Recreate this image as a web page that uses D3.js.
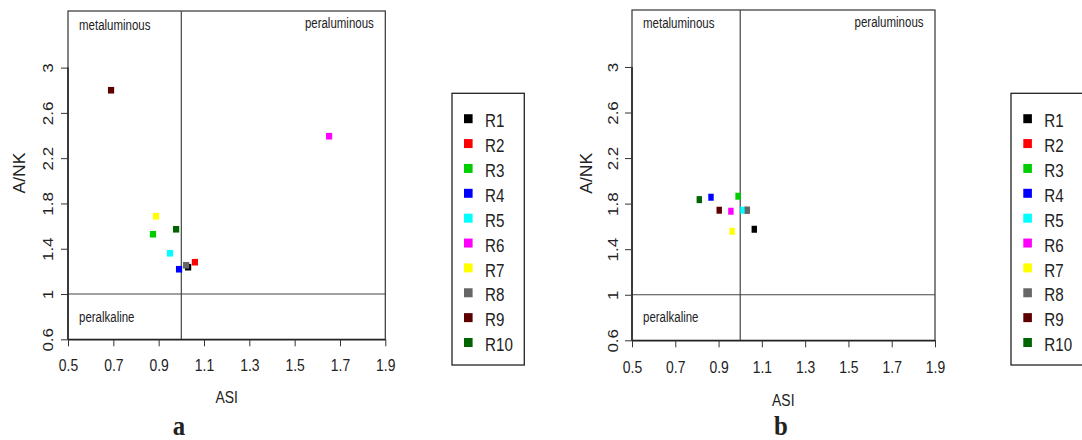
<!DOCTYPE html>
<html><head><meta charset="utf-8">
<script src="https://cdn.jsdelivr.net/npm/d3@7"></script>
<style>
html,body{margin:0;padding:0;background:#fff;}
svg text{fill:#222;font-family:"Liberation Sans",Arial,sans-serif;}
</style></head><body>
<svg id="chart" width="1082" height="440"></svg>
<script>
// ---- data ----
const series = ["R1","R2","R3","R4","R5","R6","R7","R8","R9","R10"];
const colors = ["#000000","#ff0000","#00cd00","#0000ff","#00ffff","#ff00ff","#ffff00","#666666","#5c0000","#006400"];
const asiA = [1.03, 1.06, 0.875, 0.99, 0.95, 1.652, 0.888, 1.021, 0.69, 0.977];
const anknA = [1.237, 1.281, 1.528, 1.219, 1.36, 2.394, 1.687, 1.254, 2.80, 1.572];
const asiB = [1.065, 1.03, 0.99, 0.865, 1.013, 0.957, 0.963, 1.033, 0.903, 0.811];
const anknB = [1.575, 1.742, 1.865, 1.856, 1.742, 1.733, 1.557, 1.742, 1.742, 1.835];
const xTicks = [0.5, 0.7, 0.9, 1.1, 1.3, 1.5, 1.7, 1.9];
const yTicks = [0.6, 1, 1.4, 1.8, 2.2, 2.6, 3];
const xDomain = [0.5, 1.9];
const yDomain = [0.6, 3.5];
const xDivider = 1;
const yDivider = 1;
const regionLabels = ["metaluminous", "peraluminous", "peralkaline"];
const panelTitles = ["a", "b"];

const SQ = 0.82; // horizontal squeeze of the reference lettering
const svg = d3.select("#chart");

function htext(g, x, y, txt, size, anchor, sq) {
  return g.append("text").attr("font-size", size).attr("text-anchor", anchor || "start")
    .attr("transform", `translate(${x},${y}) scale(${sq || SQ},1)`).text(txt);
}

const panels = [
  {title: panelTitles[0], xs: asiA, ys: anknA, left: 68, right: 385.3, top: 11, bottom: 339.3,
   mw: 6.2, mh: 6.6, ytickX: 52.7, xtickBase: 370.7, asiBase: 403.3, asiX: 226.7, ankX: 25, ankY: 173,
   metaBase: 30, periBase: 28.3, alkBase: 322, titleX: 179, titleBase: 435,
   leg: {x0: 452, x1: 524.3, y0: 93.3, y1: 365, sqX: 468.3, txX: 485}},
  {title: panelTitles[1], xs: asiB, ys: anknB, left: 632, right: 935, top: 10, bottom: 340.3,
   mw: 5.4, mh: 7, ytickX: 618.2, xtickBase: 373.3, asiBase: 406, asiX: 783.3, ankX: 591.7, ankY: 173.3,
   metaBase: 28.3, periBase: 26.7, alkBase: 322, titleX: 781, titleBase: 435,
   leg: {x0: 1011, x1: 1095, y0: 93.3, y1: 365, sqX: 1027.6, txX: 1044.3}}
];

panels.forEach(p => {
  const g = svg.append("g");
  const x = d3.scaleLinear().domain(xDomain).range([p.left, p.right]);
  const y = d3.scaleLinear().domain(yDomain).range([p.bottom, p.top]);

  // box
  g.append("rect").attr("x", p.left).attr("y", p.top)
    .attr("width", p.right - p.left).attr("height", p.bottom - p.top)
    .attr("fill", "none").attr("stroke", "#333").attr("stroke-width", 1.2);

  // divider lines
  g.append("line").attr("x1", x(xDivider)).attr("x2", x(xDivider))
    .attr("y1", p.top).attr("y2", p.bottom).attr("stroke", "#444").attr("stroke-width", 1.2);
  g.append("line").attr("x1", p.left).attr("x2", p.right)
    .attr("y1", y(yDivider)).attr("y2", y(yDivider)).attr("stroke", "#444").attr("stroke-width", 1.2);

  // axes
  const xa = g.append("g").attr("transform", `translate(0,${p.bottom})`)
    .call(d3.axisBottom(x).tickValues(xTicks).tickSize(7).tickSizeOuter(0).tickFormat(d => String(d)));
  xa.select(".domain").attr("stroke", "#222").attr("stroke-width", 1.5);
  xa.selectAll(".tick line").attr("stroke", "#333");
  xa.selectAll(".tick text").attr("font-size", 17).attr("font-family", null)
    .attr("dy", null).attr("y", null)
    .attr("transform", `translate(0,${p.xtickBase - p.bottom}) scale(${SQ},1)`).attr("fill", "#222");

  const ya = g.append("g").attr("transform", `translate(${p.left},0)`)
    .call(d3.axisLeft(y).tickValues(yTicks).tickSize(7).tickSizeOuter(0).tickFormat(d => String(d)));
  ya.select(".domain").attr("stroke", "#222").attr("stroke-width", 1.5)
    .attr("d", `M0,${y(yTicks[0])}V${y(yTicks[yTicks.length-1])}`);
  ya.selectAll(".tick line").attr("stroke", "#333");
  ya.selectAll(".tick text").attr("font-size", 17).attr("font-family", null)
    .attr("x", null).attr("dy", null).attr("text-anchor", "middle")
    .attr("transform", `translate(${p.ytickX - p.left},0) rotate(-90) scale(1,${SQ})`).attr("fill", "#222");

  // axis titles
  htext(g, p.asiX, p.asiBase, "ASI", 17, "middle");
  g.append("text").attr("font-size", 17.5)
    .attr("text-anchor", "middle")
    .attr("transform", `translate(${p.ankX},${p.ankY}) rotate(-90) scale(1,0.9)`).text("A/NK");

  // region labels
  htext(g, p.left + 11, p.metaBase, regionLabels[0], 14, "start");
  htext(g, p.right - 11.5, p.periBase, regionLabels[1], 14, "end");
  htext(g, p.left + 11, p.alkBase, regionLabels[2], 14, "start");

  // points
  g.selectAll("rect.pt").data(series).enter().append("rect").attr("class", "pt")
    .attr("x", (d, i) => x(p.xs[i]) - p.mw / 2)
    .attr("y", (d, i) => y(p.ys[i]) - p.mh / 2)
    .attr("width", p.mw).attr("height", p.mh)
    .attr("fill", (d, i) => colors[i]);

  // panel title
  htext(g, p.titleX, p.titleBase, p.title, 27, "middle", 0.92)
    .attr("font-family", "'Liberation Serif','Times New Roman',serif").attr("font-weight", "bold")
    .style("font-family", "'Liberation Serif','Times New Roman',serif");

  // legend
  const L = p.leg;
  g.append("rect").attr("x", L.x0).attr("y", L.y0).attr("width", L.x1 - L.x0).attr("height", L.y1 - L.y0)
    .attr("fill", "none").attr("stroke", "#222").attr("stroke-width", 1.3);
  const ly = d3.scalePoint().domain(series).range([120.7, 344.5]);
  const li = g.selectAll("g.li").data(series).enter().append("g").attr("class", "li");
  li.append("rect").attr("x", L.sqX - 4.3).attr("y", d => ly(d) - 2 - 4.5)
    .attr("width", 8.6).attr("height", 9).attr("fill", (d, i) => colors[i]);
  li.each(function(d) {
    htext(d3.select(this), L.txX, ly(d) + 6.6, d, 18.5, "start");
  });
});
</script>
</body></html>
